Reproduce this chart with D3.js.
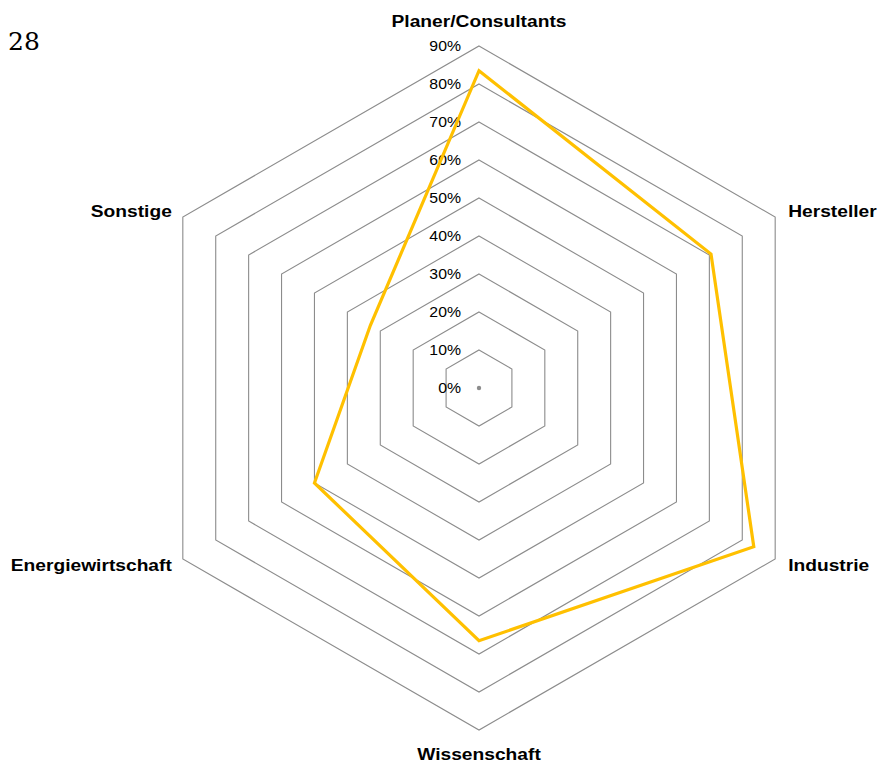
<!DOCTYPE html>
<html>
<head>
<meta charset="utf-8">
<script src="https://cdn.jsdelivr.net/npm/d3@7"></script>
<style>
  html, body { margin: 0; padding: 0; background: #fff; }
  svg { display: block; }
</style>
</head>
<body>
<script>
const categories = ["Planer/Consultants", "Hersteller", "Industrie", "Wissenschaft", "Energiewirtschaft", "Sonstige"];
const values = [0.835, 0.705, 0.835, 0.665, 0.50, 0.33];
const tickValues = [0, 0.1, 0.2, 0.3, 0.4, 0.5, 0.6, 0.7, 0.8, 0.9];
const tickLabels = ["0%", "10%", "20%", "30%", "40%", "50%", "60%", "70%", "80%", "90%"];
const pageNumber = "28";

const W = 877, H = 764;
const cx = 479, cy = 388;
const SX = 1.13; // horizontal stretch of text seen in the reference
const svg = d3.select("body").append("svg").attr("width", W).attr("height", H);

const r = d3.scaleLinear().domain([0, 0.9]).range([0, 342]);
const angle = d3.scaleBand().domain(categories).range([0, 2 * Math.PI]).paddingInner(0).paddingOuter(0);
const ang = c => angle(c); // 0 at top, clockwise
const pt = (c, v) => [cx + r(v) * Math.sin(ang(c)), cy - r(v) * Math.cos(ang(c))];

// page number
svg.append("text").attr("x", 8).attr("y", 50)
  .attr("font-family", "'DejaVu Serif', 'Liberation Serif', serif")
  .attr("font-size", 25).attr("fill", "#000").text(pageNumber);

const g = svg.append("g");

// grid rings
const line = d3.line().curve(d3.curveLinearClosed);
tickValues.filter(t => t > 0).forEach(t => {
  g.append("path")
    .attr("d", line(categories.map(c => pt(c, t))))
    .attr("fill", "none").attr("stroke", "#8c8c8c").attr("stroke-width", 1.1);
});
// center dot (0%)
g.append("circle").attr("cx", cx).attr("cy", cy).attr("r", 2.2).attr("fill", "#8c8c8c");

// tick labels
g.selectAll("text.tick").data(tickValues).enter().append("text")
  .attr("class", "tick")
  .attr("transform", d => `translate(${cx - 18},${cy - r(d)}) scale(${SX},1)`)
  .attr("dy", "0.35em")
  .attr("text-anchor", "end")
  .attr("font-family", "'Liberation Sans', Arial, sans-serif")
  .attr("font-size", 14).attr("fill", "#000")
  .text((d, i) => tickLabels[i]);

// data polygon
g.append("path")
  .attr("d", line(categories.map((c, i) => pt(c, values[i]))))
  .attr("fill", "none").attr("stroke", "#FFC000").attr("stroke-width", 3.2)
  .attr("stroke-linejoin", "miter");

// category labels
categories.forEach(c => {
  const [x, y] = pt(c, 0.9);
  const s = Math.sin(ang(c)), co = Math.cos(ang(c));
  let tx = x, ty = y, anchor = "middle";
  if (Math.abs(s) < 0.01) {
    ty = co > 0 ? y - 25 : y + 24;
  } else {
    anchor = s > 0 ? "start" : "end";
    tx = s > 0 ? x + 13 : x - 11;
    ty = co > 0 ? y - 6 : y + 6;
  }
  g.append("text")
    .attr("transform", `translate(${tx},${ty}) scale(${SX},1)`)
    .attr("dy", "0.35em")
    .attr("text-anchor", anchor)
    .attr("font-family", "'Liberation Sans', Arial, sans-serif")
    .attr("font-weight", "bold").attr("font-size", 17).attr("fill", "#000")
    .text(c);
});
</script>
</body>
</html>
